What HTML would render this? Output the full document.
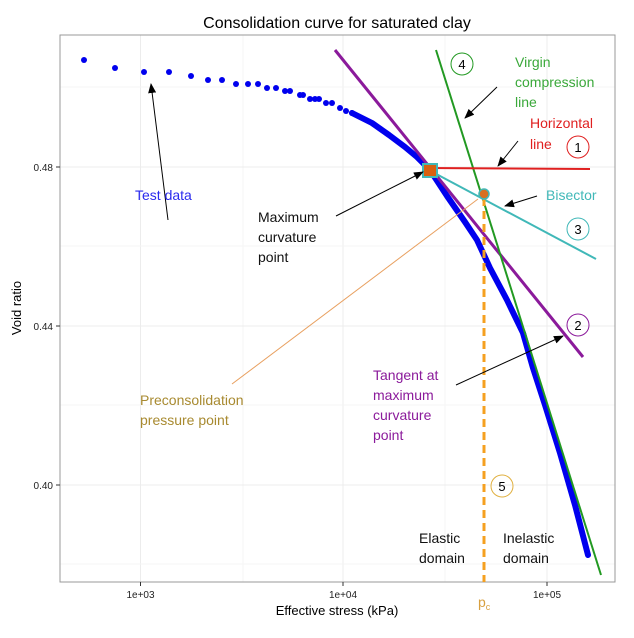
<!DOCTYPE html>
<html><head><meta charset="utf-8"><style>
body{margin:0;background:#fff;}
svg text{font-family:"Liberation Sans",sans-serif;}
</style></head><body>
<svg width="634" height="633" xmlns="http://www.w3.org/2000/svg">
<defs><marker id="ah" markerWidth="10" markerHeight="8" refX="9" refY="4" orient="auto" markerUnits="userSpaceOnUse"><path d="M0,0 L10,4 L0,8 Z" fill="#000"/></marker></defs>
<rect x="0" y="0" width="634" height="633" fill="#fff"/>
<text x="337" y="28" font-size="16" text-anchor="middle">Consolidation curve for saturated clay</text>
<g stroke="#ececec" stroke-width="1">
<line x1="140.5" y1="35" x2="140.5" y2="582"/><line x1="343" y1="35" x2="343" y2="582"/><line x1="547" y1="35" x2="547" y2="582"/>
<line x1="243" y1="35" x2="243" y2="582" stroke="#f5f5f5"/><line x1="445" y1="35" x2="445" y2="582" stroke="#f5f5f5"/>
<line x1="60" y1="167" x2="615" y2="167"/><line x1="60" y1="326" x2="615" y2="326"/><line x1="60" y1="485" x2="615" y2="485"/>
<line x1="60" y1="87" x2="615" y2="87" stroke="#f5f5f5"/><line x1="60" y1="246" x2="615" y2="246" stroke="#f5f5f5"/><line x1="60" y1="405" x2="615" y2="405" stroke="#f5f5f5"/><line x1="60" y1="564" x2="615" y2="564" stroke="#f5f5f5"/>
</g>
<rect x="60" y="35" width="555" height="547" fill="none" stroke="#999" stroke-width="1"/>
<g stroke="#333"><line x1="56" y1="167" x2="60" y2="167"/><line x1="56" y1="326" x2="60" y2="326"/><line x1="56" y1="485" x2="60" y2="485"/>
<line x1="140.5" y1="582" x2="140.5" y2="586"/><line x1="343" y1="582" x2="343" y2="586"/><line x1="547" y1="582" x2="547" y2="586"/></g>
<g font-size="10" fill="#222"><text x="53" y="171" text-anchor="end">0.48</text><text x="53" y="330" text-anchor="end">0.44</text><text x="53" y="489" text-anchor="end">0.40</text>
<text x="140.5" y="598" text-anchor="middle">1e+03</text><text x="343" y="598" text-anchor="middle">1e+04</text><text x="547" y="598" text-anchor="middle">1e+05</text></g>
<text x="337" y="615" font-size="13" text-anchor="middle">Effective stress (kPa)</text>
<text x="0" y="0" font-size="13" text-anchor="middle" transform="translate(21,308) rotate(-90)">Void ratio</text>
<g fill="#0000ee">
<circle cx="84" cy="60" r="3"/><circle cx="115" cy="68" r="3"/><circle cx="144" cy="72" r="3"/><circle cx="169" cy="72" r="3"/>
<circle cx="191" cy="76" r="3"/><circle cx="208" cy="80" r="3"/><circle cx="222" cy="80" r="3"/><circle cx="236" cy="84" r="3"/>
<circle cx="248" cy="84" r="3"/><circle cx="258" cy="84" r="3"/><circle cx="267" cy="88" r="3"/><circle cx="276" cy="88" r="3"/>
<circle cx="285" cy="91" r="3"/><circle cx="290" cy="91" r="3"/><circle cx="300" cy="95" r="3"/><circle cx="303" cy="95" r="3"/>
<circle cx="310" cy="99" r="3"/><circle cx="315" cy="99" r="3"/><circle cx="319" cy="99" r="3"/><circle cx="326" cy="103" r="3"/>
<circle cx="332" cy="103" r="3"/><circle cx="340" cy="108" r="3"/><circle cx="346" cy="111" r="3"/><circle cx="352" cy="113" r="3"/>
</g>
<polyline points="352,113 356,115 372,123 389,135 405,147 417,157 430,170 447,196 465,222 477,240 490,268 507,300 523,333 533,368 545,405 560,453 575,505 588,555" fill="none" stroke="#0000ee" stroke-width="6" stroke-linecap="round" stroke-linejoin="round"/>
<line x1="335" y1="50" x2="583" y2="357" stroke="#8b1a9b" stroke-width="3"/>
<line x1="436" y1="50" x2="601" y2="575" stroke="#229922" stroke-width="2"/>
<line x1="425" y1="168" x2="590" y2="169" stroke="#e02020" stroke-width="2"/>
<line x1="425" y1="168" x2="596" y2="259" stroke="#40b8b8" stroke-width="2"/>
<line x1="484" y1="198" x2="484" y2="582" stroke="#f5a020" stroke-width="3" stroke-dasharray="8,5"/>
<line x1="232" y1="384" x2="478" y2="199" stroke="#e8a060" stroke-width="1"/>
<rect x="423" y="164" width="14" height="13" fill="#d86010" stroke="#40b8b8" stroke-width="2"/>
<circle cx="484" cy="194" r="5" fill="#d87020" stroke="#40b8b8" stroke-width="1.5"/>
<g stroke="#000" stroke-width="1" marker-end="url(#ah)">
<line x1="168" y1="220" x2="151" y2="84"/>
<line x1="497" y1="87" x2="465" y2="118"/>
<line x1="518" y1="141" x2="498" y2="166"/>
<line x1="537" y1="196" x2="505" y2="206"/>
<line x1="336" y1="216" x2="423" y2="172"/>
<line x1="456" y1="385" x2="563" y2="336"/>
</g>
<g font-size="14">
<text x="135" y="200" fill="#2a2aee">Test data</text>
<text x="258" y="222" fill="#111">Maximum</text><text x="258" y="242" fill="#111">curvature</text><text x="258" y="262" fill="#111">point</text>
<text x="515" y="67" fill="#3aa83a">Virgin</text><text x="515" y="87" fill="#3aa83a">compression</text><text x="515" y="107" fill="#3aa83a">line</text>
<text x="530" y="128" fill="#e02020">Horizontal</text><text x="530" y="149" fill="#e02020">line</text>
<text x="546" y="200" fill="#40b8b8">Bisector</text>
<text x="373" y="380" fill="#8b1a9b">Tangent at</text><text x="373" y="400" fill="#8b1a9b">maximum</text><text x="373" y="420" fill="#8b1a9b">curvature</text><text x="373" y="440" fill="#8b1a9b">point</text>
<text x="140" y="405" fill="#a88a30">Preconsolidation</text><text x="140" y="425" fill="#a88a30">pressure point</text>
<text x="419" y="543" fill="#111">Elastic</text><text x="419" y="563" fill="#111">domain</text>
<text x="503" y="543" fill="#111">Inelastic</text><text x="503" y="563" fill="#111">domain</text>
<text x="478" y="607" fill="#d8a040">p<tspan font-size="9" dy="3">c</tspan></text>
</g>
<g font-size="13" text-anchor="middle">
<circle cx="462" cy="64" r="11" fill="none" stroke="#229922"/><text x="462" y="69">4</text>
<circle cx="578" cy="147" r="11" fill="none" stroke="#e02020"/><text x="578" y="152">1</text>
<circle cx="578" cy="229" r="11" fill="none" stroke="#40b8b8"/><text x="578" y="234">3</text>
<circle cx="578" cy="325" r="11" fill="none" stroke="#8b1a9b"/><text x="578" y="330">2</text>
<circle cx="502" cy="486" r="11" fill="none" stroke="#e0b040"/><text x="502" y="491">5</text>
</g>
</svg>
</body></html>
